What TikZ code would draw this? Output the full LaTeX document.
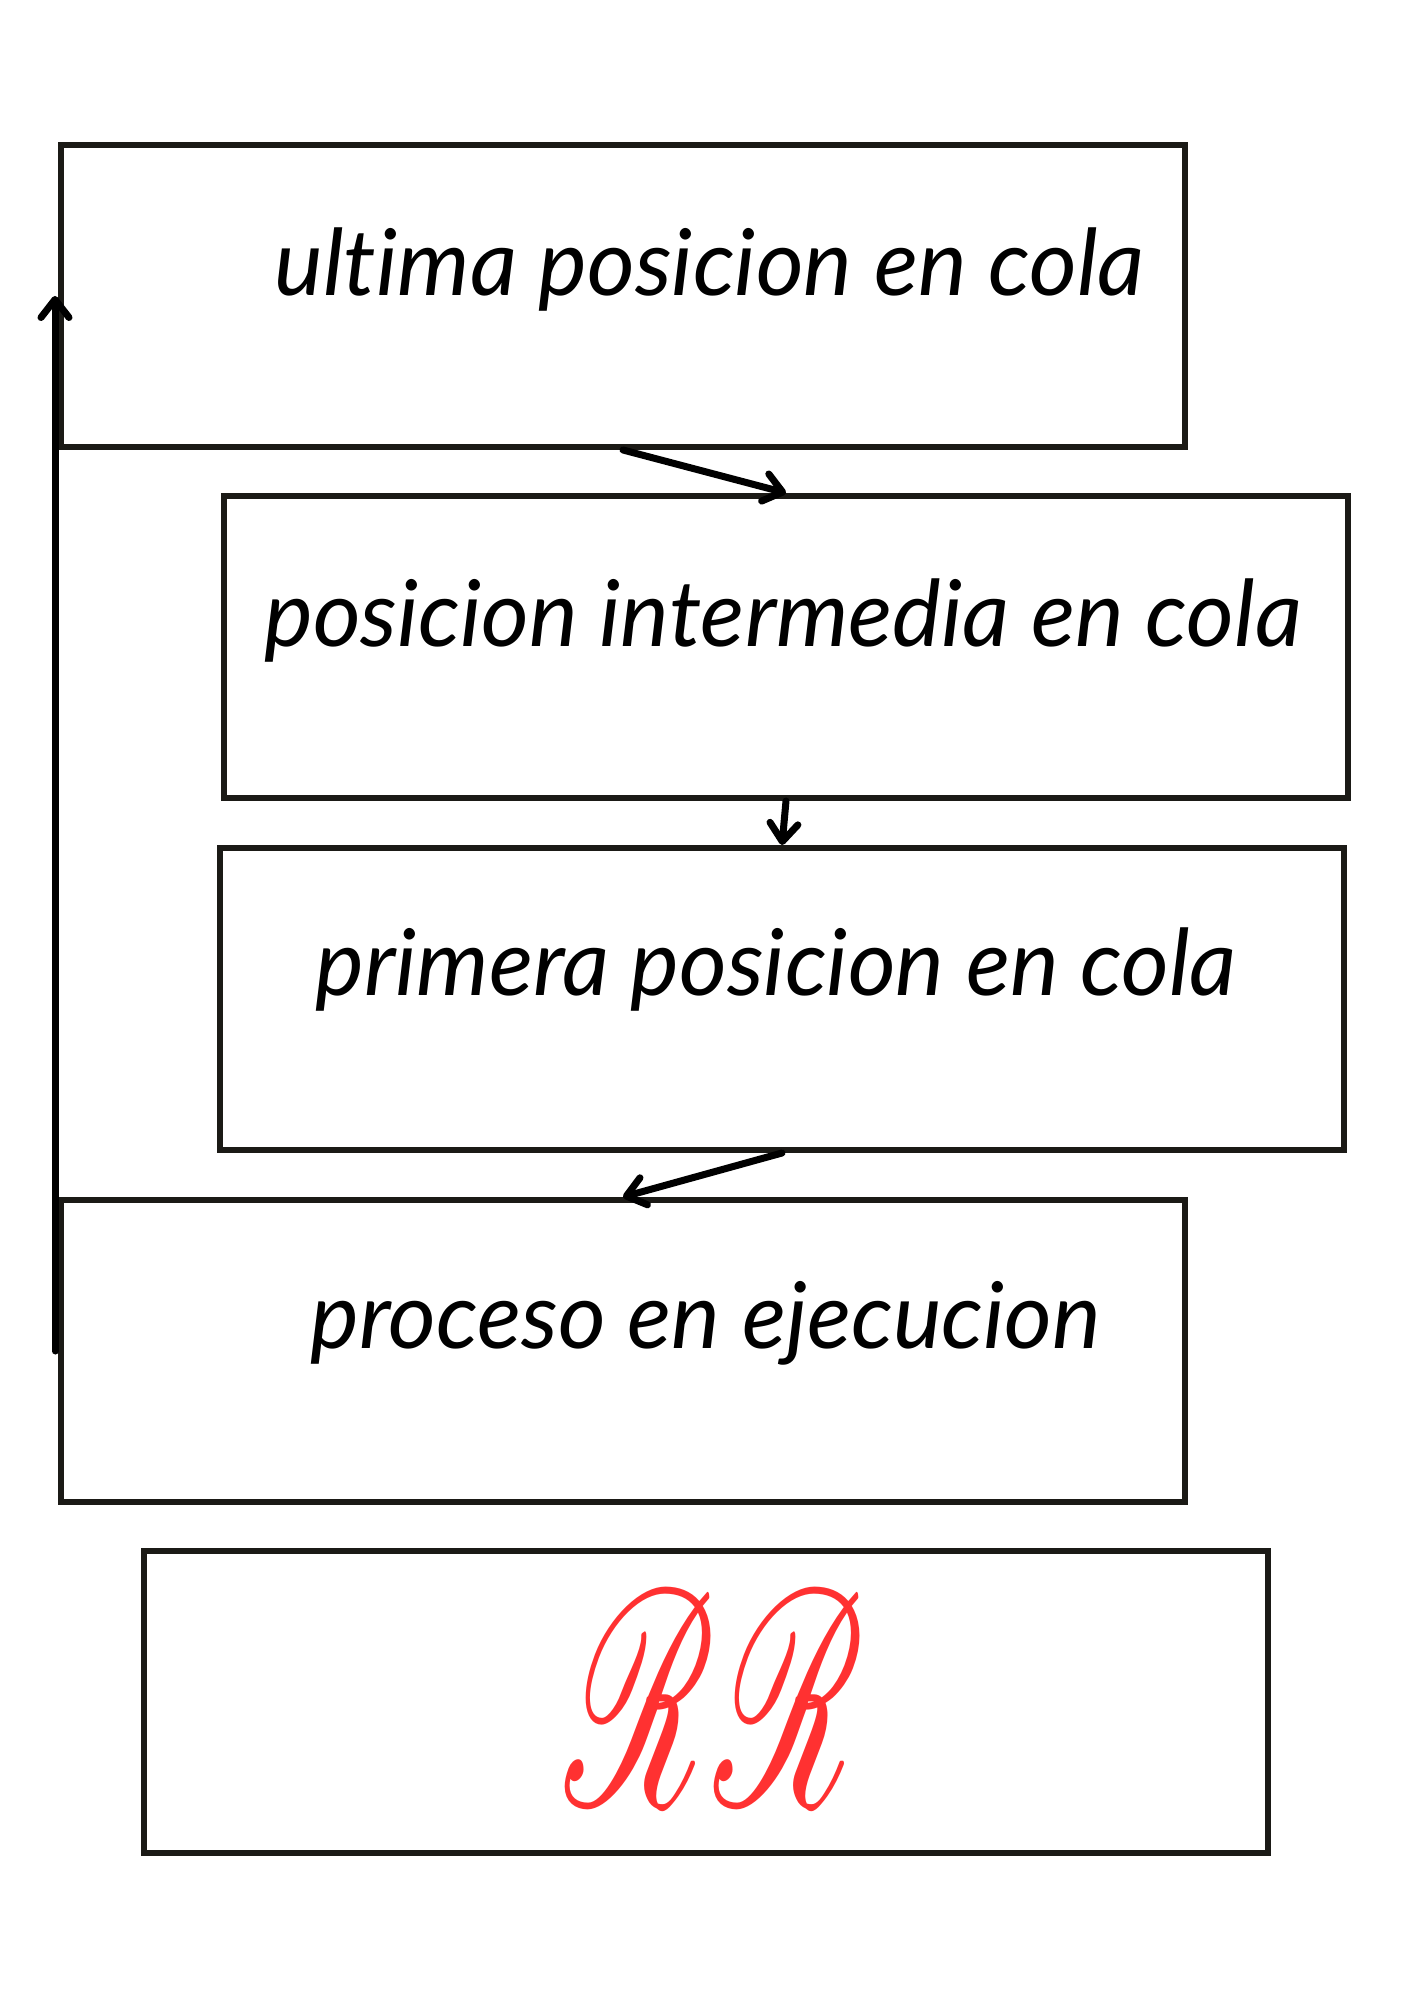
\documentclass[tikz,border=0pt]{standalone}
\usepackage{fontspec}
\usepackage{mathrsfs}
\usetikzlibrary{arrows.meta}
\newfontfamily\hand{Lato}[Ligatures=CommonOff]
\definecolor{boxline}{HTML}{1B1A16}
\definecolor{rrred}{HTML}{FF3131}
\tikzset{
  qbox/.style={draw=boxline, line width=3pt, minimum width=562pt, minimum height=151pt, inner sep=0pt},
  lbl/.style={anchor=base west, inner sep=0pt, font=\hand\itshape\fontsize{46}{52}\selectfont},
  flow/.style={draw=black, line width=3.5pt, line cap=round, -{Straight Barb[round,length=9pt,width=14pt]}}
}
\begin{document}
\begin{tikzpicture}[x=0.5pt,y=-0.5pt]
\useasboundingbox (0,0) rectangle (1414,2000);
\fill[white] (0,0) rectangle (1414,2000);
\node[qbox] (b1) at (623,296) {};
\node[qbox] (b2) at (786,647) {};
\node[qbox] (b3) at (782,999) {};
\node[qbox] (b4) at (623,1351) {};
\node[qbox] (b5) at (706,1702) {};
\node[lbl] (t1) at (274,296) {ultima posicion en cola};
\node[lbl] (t2) at (264,646) {posicion intermedia en cola};
\node[lbl] (t3) at (315,995) {primera posicion en cola};
\node[lbl] (t4) at (310,1348) {proceso en ejecucion};
\node[text=rrred, inner sep=0pt] (t5) at (715,1699) {\scalebox{8.2}[15.3]{$\mathscr{R}\mathscr{R}$}};
\draw[flow] (b1.south) -- (b2.north);
\draw[flow] (b2.south) -- (b3.north);
\draw[flow] (b3.south) -- (b4.north);
\draw[flow] ([xshift=-1.5pt]b4.west) -- ([xshift=-1.5pt]b1.west);
\end{tikzpicture}
\end{document}
